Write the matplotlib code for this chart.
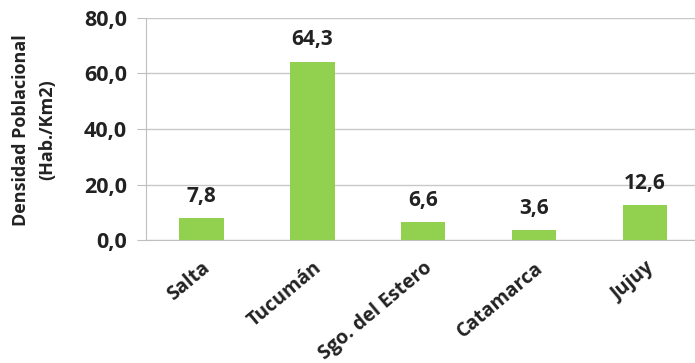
import matplotlib
matplotlib.use("Agg")
import matplotlib.pyplot as plt
import numpy as np

provincias = ["Salta", "Tucumán", "Sgo. del Estero", "Catamarca", "Jujuy"]
densidad = [7.8, 64.3, 6.6, 3.6, 12.6]
yticks = [0, 20, 40, 60, 80]

plt.rcParams['font.family'] = ['Open Sans', 'DejaVu Sans']
plt.rcParams['font.weight'] = 'bold'
TXT = "#222222"

fig = plt.figure(figsize=(6.95, 3.63), dpi=100)
ax = fig.add_axes([146/695, 1 - 240/363, 1 - 146/695, 222/363])

x = np.arange(len(provincias))
ax.bar(x, densidad, width=0.4, color="#92D050", zorder=3)

for xi, v in zip(x, densidad):
    ax.text(xi, v + 4.0, f"{v:.1f}".replace(".", ","), ha="center", va="bottom",
            fontsize=15, fontweight="bold", color=TXT)

ax.set_ylim(0, 80)
ax.set_xlim(-0.5, 4.45)
ax.set_yticks(yticks)
ax.set_yticklabels([f"{t:.1f}".replace(".", ",") for t in yticks],
                   fontsize=15.5, fontweight="bold", color=TXT)
ax.set_xticks(x)
ax.set_xticklabels(provincias, rotation=40, ha="right", rotation_mode="anchor",
                   fontsize=14, fontweight="bold", color=TXT)
ax.tick_params(axis="x", length=0, pad=13)
ax.tick_params(axis="y", length=6.5, color="#bfbfbf", pad=7)

ax.grid(axis="y", color="#c8c8c8", linewidth=1, zorder=0)
for s in ["top", "right"]:
    ax.spines[s].set_visible(False)
ax.spines["left"].set_color("#bfbfbf")
ax.spines["bottom"].set_color("#bfbfbf")

fig.text(34/695, 1 - 130/363, "Densidad Poblacional\n(Hab./Km2)", rotation=90,
         ha="center", va="center", multialignment="center", linespacing=1.55,
         fontsize=13, fontweight="bold", color=TXT)

fig.savefig("out.png", dpi=100)
